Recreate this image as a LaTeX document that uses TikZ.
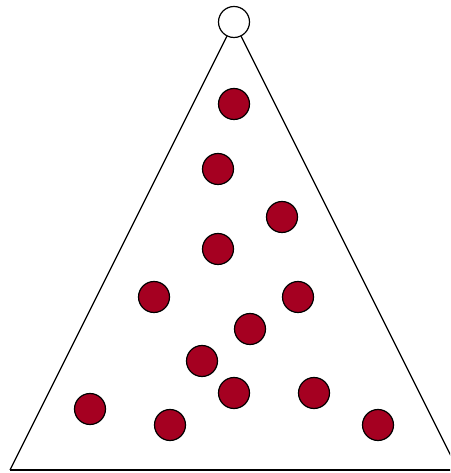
\documentclass[tikz,border=0pt]{standalone}
\definecolor{dotred}{RGB}{165,0,33}
\begin{document}
\begin{tikzpicture}[x=1pt,y=1pt,
  dot/.style={circle,draw=black,line width=1.2pt,fill=dotred,minimum size=31pt,inner sep=0pt},
  top/.style={circle,draw=black,line width=1.2pt,fill=white,minimum size=31pt,inner sep=0pt},
  edge/.style={line width=1.3pt}]
\useasboundingbox (0,0) rectangle (450,473);
\begin{scope}
\clip (0,0) rectangle (450,473);
\coordinate (bl) at (10,3);
\coordinate (br) at (458,3);
\node[top] (apex) at (234,451) {};
\draw[edge] (apex) -- (bl);
\draw[edge] (apex) -- (br);
\draw[edge] (bl) -- (br);
\end{scope}
\foreach \n/\x/\y in {d1/234/104, d2/218/169, d3/282/217, d4/218/249, d5/154/297, d6/298/297, d7/250/329, d8/202/361, d9/234/393, d10/314/393, d11/90/409, d12/170/425, d13/378/425}
  \node[dot] (\n) at (\x,473-\y) {};
\end{tikzpicture}
\end{document}
